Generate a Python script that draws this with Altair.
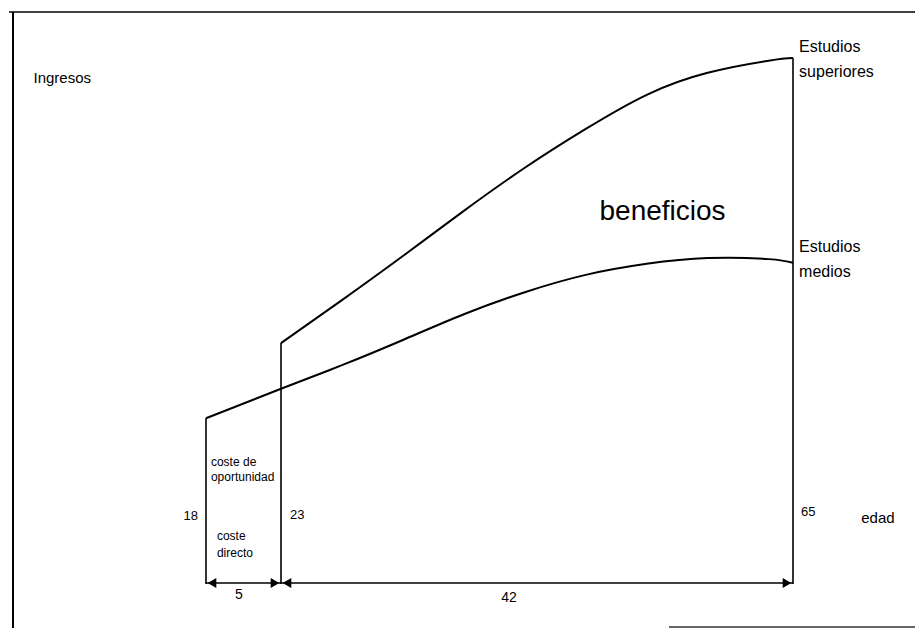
import altair as alt
import pandas as pd

# ---- data ----
edad_medios = [18, 23, 28, 33, 38, 43, 48, 53, 58, 63, 65]
ingresos_medios = [31.2, 36.8, 41.3, 46.1, 51.0, 55.2, 58.5, 60.6, 61.7, 61.5, 60.8]

edad_superiores = [23, 28, 33, 38, 43, 48, 53, 58, 63, 65]
ingresos_superiores = [45.5, 53.7, 62.1, 70.7, 78.9, 86.3, 92.8, 97.0, 99.3, 99.8]

edades_clave = [18, 23, 65]
cota_desde = [18, 23]
cota_hasta = [23, 65]

label_text = ["Ingresos", "Estudios", "superiores", "beneficios", "Estudios", "medios",
              "18", "23", "65", "edad", "coste de", "oportunidad", "coste", "directo", "5", "42"]
label_edad = [6.5, 65.5, 65.5, 54.3, 65.5, 65.5,
              17.47, 23.74, 65.66, 70.6, 18.33, 18.33, 18.73, 18.73, 20.2, 41.7]
label_ingreso = [96.0, 101.9, 97.1, 70.5, 63.8, 59.0,
                 12.6, 12.8, 13.3, 12.2, 22.9, 20.0, 8.8, 5.5, -2.5, -3.0]
label_size = [15, 16, 16, 28, 16, 16, 13, 13, 13, 15, 12, 12, 12, 12, 14, 14]
label_align = ["left", "left", "left", "center", "left", "left",
               "right", "left", "left", "left", "left", "left", "left", "left", "center", "center"]

FONT = "Liberation Sans"

# ---- tables ----
curves = pd.concat([
    pd.DataFrame({"edad": edad_medios, "ingreso": ingresos_medios, "serie": "Estudios medios"}),
    pd.DataFrame({"edad": edad_superiores, "ingreso": ingresos_superiores, "serie": "Estudios superiores"}),
])
verticals = pd.DataFrame({
    "edad": edades_clave,
    "top": [ingresos_medios[0], ingresos_superiores[0], ingresos_superiores[-1]],
    "base": [-0.4] * 3,
})
cotas = pd.DataFrame({"desde": cota_desde, "hasta": cota_hasta, "nivel": [-0.2, -0.2]})
labels = pd.DataFrame({"text": label_text, "edad": label_edad, "ingreso": label_ingreso,
                       "size": label_size, "align": label_align})

xs = alt.Scale(domain=[18, 23, 65], range=[197, 272, 784], nice=False, zero=False)
ys = alt.Scale(domain=[0, 100], range=[574, 49], nice=False, zero=False)

lines = alt.Chart(curves).mark_line(interpolate="natural", color="black", strokeWidth=2).encode(
    x=alt.X("edad:Q", scale=xs, axis=None),
    y=alt.Y("ingreso:Q", scale=ys, axis=None),
    detail="serie:N",
)

vrules = alt.Chart(verticals).mark_rule(color="black", strokeWidth=1.6).encode(
    x=alt.X("edad:Q", scale=xs, axis=None),
    y=alt.Y("base:Q", scale=ys, axis=None),
    y2="top:Q",
)

shafts = alt.Chart(cotas).mark_rule(color="black", strokeWidth=1.6).encode(
    x=alt.X("desde:Q", scale=xs, axis=None),
    x2="hasta:Q",
    y=alt.Y("nivel:Q", scale=ys, axis=None),
)
head_left = alt.Chart(cotas).mark_point(shape="triangle-left", filled=True, color="black",
                                         size=100, opacity=1, xOffset=6).encode(
    x=alt.X("desde:Q", scale=xs, axis=None),
    y=alt.Y("nivel:Q", scale=ys, axis=None),
)
head_right = alt.Chart(cotas).mark_point(shape="triangle-right", filled=True, color="black",
                                          size=100, opacity=1, xOffset=-6).encode(
    x=alt.X("hasta:Q", scale=xs, axis=None),
    y=alt.Y("nivel:Q", scale=ys, axis=None),
)

def text_layer(al):
    return alt.Chart(labels).transform_filter(alt.datum.align == al).mark_text(
        align=al, baseline="middle", font=FONT, color="black"
    ).encode(
        x=alt.X("edad:Q", scale=xs, axis=None),
        y=alt.Y("ingreso:Q", scale=ys, axis=None),
        text="text:N",
        size=alt.Size("size:Q", scale=None, legend=None),
    )

texts = text_layer("left") + text_layer("center") + text_layer("right")

# frame (decorative border of the scanned figure)
frame_top = alt.Chart().mark_rule(color="black", strokeWidth=1.5).encode(
    x=alt.value(0), x2=alt.value(907), y=alt.value(4))
frame_left = alt.Chart().mark_rule(color="black", strokeWidth=2).encode(
    x=alt.value(4), y=alt.value(4), y2=alt.value(620))
frame_bottom = alt.Chart().mark_rule(color="#333333", strokeWidth=1.5).encode(
    x=alt.value(660), x2=alt.value(907), y=alt.value(619))

chart = alt.layer(
    frame_top, frame_left, frame_bottom, vrules, lines, shafts, head_left, head_right, texts
).properties(
    width=907, height=620,
    autosize=alt.AutoSizeParams(type="fit", contains="padding"),
    padding=0,
).configure_view(stroke=None)

chart.save("out.html", embed_options={"renderer": "svg", "actions": False})
